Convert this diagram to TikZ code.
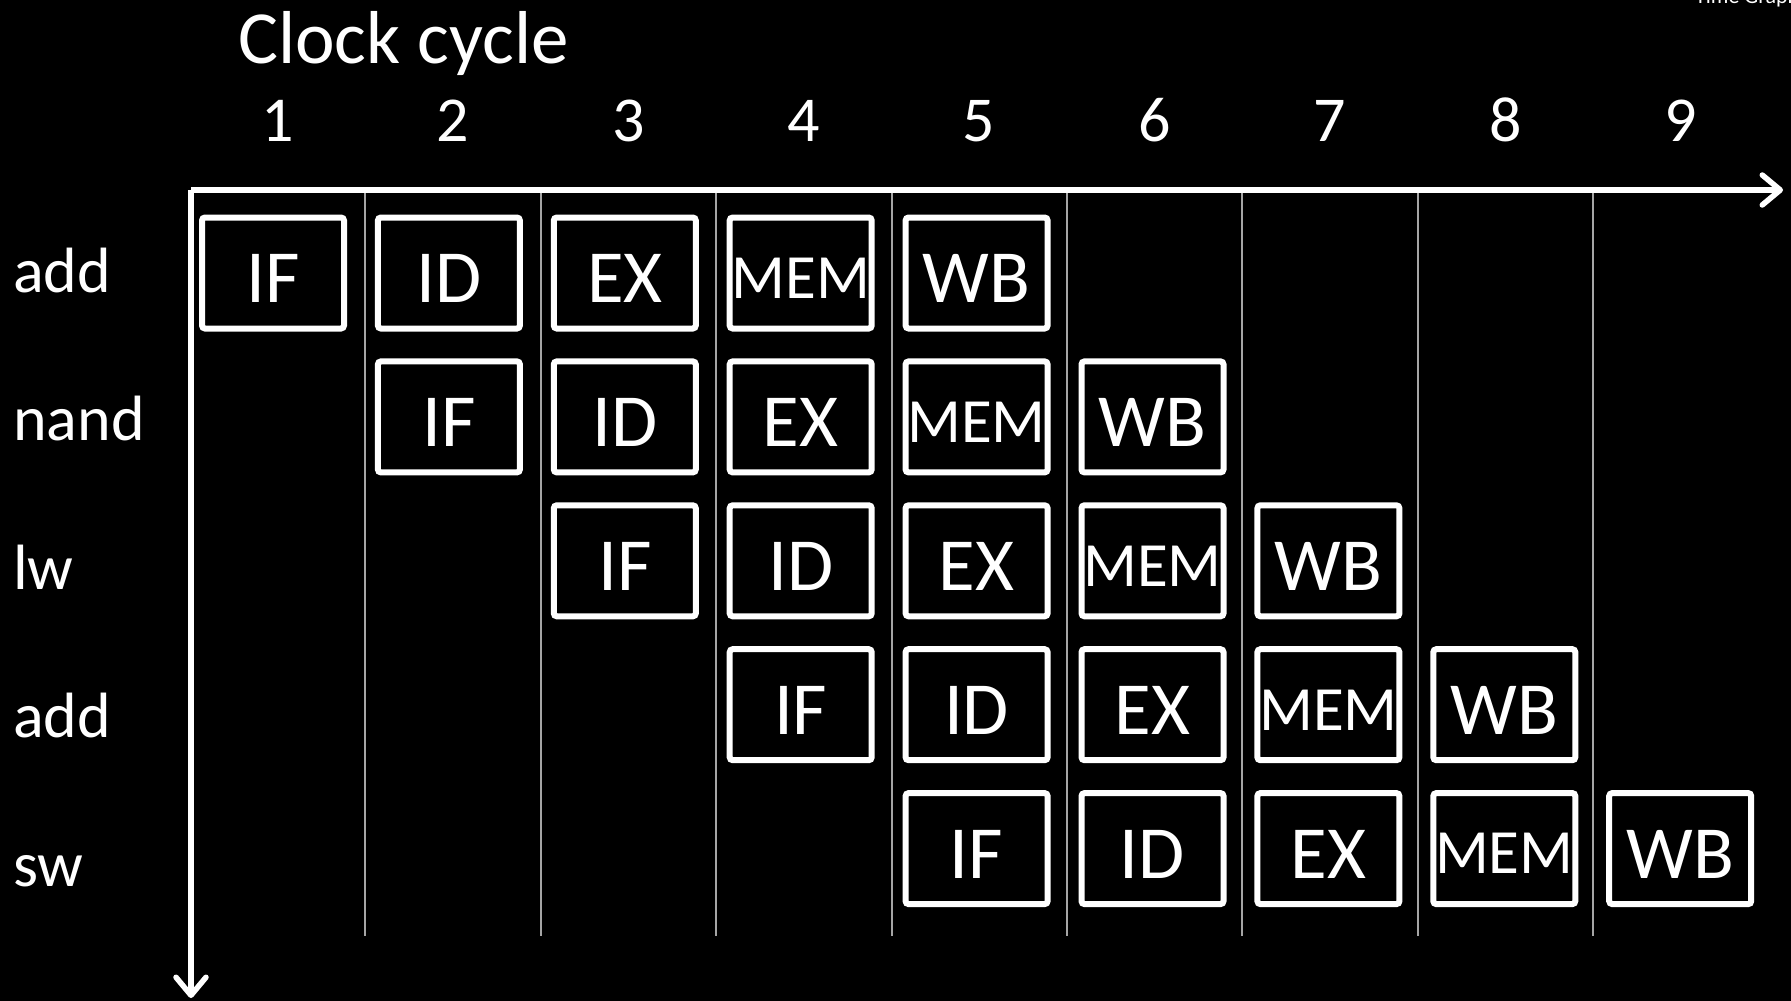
\documentclass[tikz,border=0pt]{standalone}
\usepackage{fontspec}
\setmainfont{Carlito}
\usetikzlibrary{arrows.meta}
\definecolor{Ink}{RGB}{0,0,0}
\definecolor{Chalk}{RGB}{255,255,255}
\definecolor{Rule}{RGB}{165,165,165}
\tikzset{
  axis/.style={line width=5.5pt,draw=Chalk,-{Straight Barb[round,length=18pt,width=30pt]}},
  gridline/.style={line width=2pt,draw=Rule},
  stagebox/.style={draw=Chalk,line width=6pt,rounded corners=3pt,inner sep=0pt,minimum width=142pt,minimum height=111pt,text=Chalk},
  bigtext/.style={font=\fontsize{75}{80}\selectfont,text height=59.6pt,text depth=0pt},
  memtext/.style={font=\fontsize{63}{68}\selectfont,text height=50.6pt,text depth=0pt},
  rowlabel/.style={anchor=base west,inner sep=0pt,text=Chalk,font=\fontsize{64}{68}\selectfont},
  cyclenum/.style={anchor=base,inner sep=0pt,text=Chalk,font=\fontsize{64}{68}\selectfont},
  header/.style={anchor=base west,inner sep=0pt,text=Chalk,font=\fontsize{75}{80}\selectfont}
}
\begin{document}
\begin{tikzpicture}[x=1pt,y=-1pt]
\useasboundingbox (0,0) rectangle (1791,1001);
\fill[Ink] (0,0) rectangle (1791,1001);
\node[anchor=base west,inner sep=0pt,text=Chalk,font=\fontsize{22}{24}\selectfont] (corner) at (1695,3) {Time Graph};
\node[header] (title) at (238,63) {Clock cycle};
\foreach \c in {1,...,9}
  \node[cyclenum] (cyc\c) at ({277.6+175.4*(\c-1)},141) {\c};
% grid between the cycles
\foreach \c in {1,...,8}{
  \coordinate (gtop\c) at ({190+175.4*\c},190);
  \coordinate (gbot\c) at ({190+175.4*\c},936);
  \draw[gridline] (gtop\c)--(gbot\c);
}
\coordinate (origin) at (191,190);
\coordinate (tend) at (1783,190);
\coordinate (iend) at (191,998);
\draw[axis] (origin)--(tend); \draw[axis] (origin)--(iend);
% instructions and their stages
\foreach \instr [count=\r] in {add,nand,lw,add,sw}
  \node[rowlabel] (lbl\r) at (13,{292+148.5*(\r-1)}) {\instr};
\foreach \r in {1,...,5}
  \foreach \stage/\sty [count=\s] in {IF/bigtext,ID/bigtext,EX/bigtext,MEM/memtext,WB/bigtext}
    \node[stagebox,\sty] (st\r\s) at ({273+175.9*(\r+\s-2)},{273+143.9*(\r-1)}) {\stage};
\end{tikzpicture}
\end{document}
